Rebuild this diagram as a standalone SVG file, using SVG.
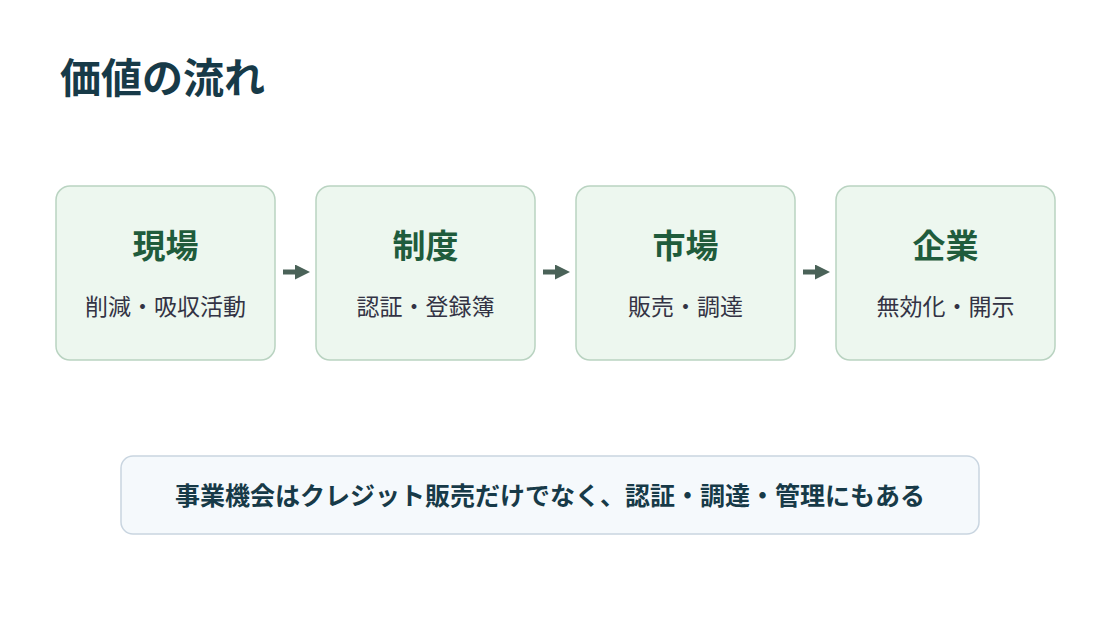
<svg xmlns="http://www.w3.org/2000/svg" width="1100" height="620" viewBox="0 0 1100 620">
<style>
.box{fill:#edf7ef;stroke:#b9d3c1;stroke-width:1.5}
.t{font-family:"Noto Sans CJK JP",sans-serif;font-weight:700;font-size:33px;fill:#1f5c3c;text-anchor:middle}
.s{font-family:"Noto Sans CJK JP",sans-serif;font-size:23px;fill:#334;text-anchor:middle}
.c{stroke:#4a6258;stroke-width:5;fill:none}
</style>
<defs><marker id="a" viewBox="0 0 10 10" refX="2" refY="5" markerWidth="3" markerHeight="3" orient="auto"><path d="M0,0L10,5L0,10z" fill="#4a6258"/></marker></defs>
<rect width="1100" height="620" fill="#fff"/>
<text x="60" y="93" font-family="Noto Sans CJK JP,sans-serif" font-weight="700" font-size="41" fill="#173a48">価値の流れ</text>
<g id="n1"><rect class="box" x="56" y="186" width="219" height="174" rx="14"/><text class="t" x="165.5" y="258">現場</text><text class="s" x="165.5" y="315">削減・吸収活動</text></g>
<g id="n2"><rect class="box" x="316" y="186" width="219" height="174" rx="14"/><text class="t" x="425.5" y="258">制度</text><text class="s" x="425.5" y="315">認証・登録簿</text></g>
<g id="n3"><rect class="box" x="576" y="186" width="219" height="174" rx="14"/><text class="t" x="685.5" y="258">市場</text><text class="s" x="685.5" y="315">販売・調達</text></g>
<g id="n4"><rect class="box" x="836" y="186" width="219" height="174" rx="14"/><text class="t" x="945.5" y="258">企業</text><text class="s" x="945.5" y="315">無効化・開示</text></g>
<g id="connectors">
<line class="c" x1="283" y1="272" x2="298" y2="272" marker-end="url(#a)"/>
<line class="c" x1="543" y1="272" x2="558" y2="272" marker-end="url(#a)"/>
<line class="c" x1="803" y1="272" x2="818" y2="272" marker-end="url(#a)"/>
</g>
<g id="note"><rect x="121" y="456" width="858" height="78" rx="12" fill="#f5f9fc" stroke="#c9d5e0" stroke-width="1.5"/><text x="550" y="505" font-family="Noto Sans CJK JP,sans-serif" font-weight="700" font-size="25" fill="#173a48" text-anchor="middle">事業機会はクレジット販売だけでなく、認証・調達・管理にもある</text></g>
</svg>
